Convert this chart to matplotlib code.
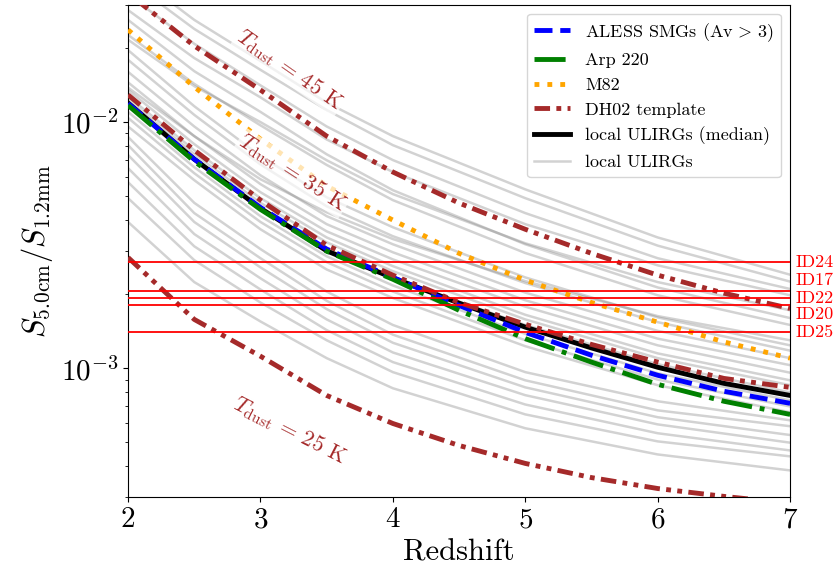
import numpy as np
import matplotlib
matplotlib.use("Agg")
import matplotlib.pyplot as plt
import matplotlib.transforms as mtransforms

plt.rcParams['font.family'] = 'serif'
plt.rcParams['font.serif'] = ['cmr10']
plt.rcParams['mathtext.fontset'] = 'cm'
plt.rcParams['axes.formatter.use_mathtext'] = True

# redshift grids
z_fine = [2.0, 2.5, 3.0, 3.5, 4.0, 4.5, 5.0, 5.5, 6.0, 6.5, 7.0]
z_gray = [2.0, 2.5, 3.0, 3.5, 4.0, 5.0, 6.0, 7.0]

# S_5cm / S_1.2mm ratios
aless = [1.19e-2, 7.07e-3, 4.50e-3, 3.05e-3, 2.34e-3, 1.80e-3, 1.40e-3, 1.13e-3, 9.37e-4, 8.07e-4, 7.21e-4]
arp220 = [1.17e-2, 6.93e-3, 4.42e-3, 2.99e-3, 2.30e-3, 1.72e-3, 1.32e-3, 1.06e-3, 8.61e-4, 7.35e-4, 6.50e-4]
m82 = [2.37e-2, 1.39e-2, 8.53e-3, 5.50e-3, 4.00e-3, 2.93e-3, 2.28e-3, 1.85e-3, 1.54e-3, 1.28e-3, 1.10e-3]
dh02_45 = [3.34e-2, 2.04e-2, 1.35e-2, 8.77e-3, 6.27e-3, 4.69e-3, 3.67e-3, 2.93e-3, 2.39e-3, 2.02e-3, 1.75e-3]
dh02_35 = [1.29e-2, 7.69e-3, 4.82e-3, 3.16e-3, 2.39e-3, 1.85e-3, 1.51e-3, 1.25e-3, 1.06e-3, 9.10e-4, 8.37e-4]
dh02_25 = [2.82e-3, 1.58e-3, 1.12e-3, 7.76e-4, 5.97e-4, 4.86e-4, 4.11e-4, 3.60e-4, 3.25e-4, 3.02e-4, 2.83e-4]
ulirg_median = [1.195e-2, 7.07e-3, 4.47e-3, 3.00e-3, 2.33e-3, 1.84e-3, 1.47e-3, 1.21e-3, 1.01e-3, 8.69e-4, 7.76e-4]

ulirgs = [
    [4.15e-2, 2.60e-2, 1.77e-2, 1.20e-2, 8.77e-3, 5.33e-3, 3.40e-3, 2.40e-3],
    [3.78e-2, 2.39e-2, 1.63e-2, 1.12e-2, 8.06e-3, 4.91e-3, 3.15e-3, 2.25e-3],
    [3.29e-2, 2.08e-2, 1.41e-2, 9.60e-3, 7.01e-3, 4.27e-3, 2.80e-3, 2.10e-3],
    [2.85e-2, 1.82e-2, 1.26e-2, 8.50e-3, 6.27e-3, 3.85e-3, 2.62e-3, 1.98e-3],
    [2.60e-2, 1.61e-2, 1.10e-2, 7.40e-3, 5.29e-3, 3.19e-3, 2.13e-3, 1.60e-3],
    [2.26e-2, 1.43e-2, 9.70e-3, 6.70e-3, 4.82e-3, 2.94e-3, 1.98e-3, 1.50e-3],
    [2.16e-2, 1.40e-2, 1.00e-2, 7.00e-3, 5.10e-3, 3.22e-3, 2.24e-3, 1.72e-3],
    [1.96e-2, 1.16e-2, 7.28e-3, 4.95e-3, 3.74e-3, 2.34e-3, 1.61e-3, 1.24e-3],
    [1.79e-2, 1.07e-2, 6.73e-3, 4.55e-3, 3.44e-3, 2.22e-3, 1.54e-3, 1.18e-3],
    [1.60e-2, 9.60e-3, 6.08e-3, 4.15e-3, 3.19e-3, 2.03e-3, 1.42e-3, 1.10e-3],
    [1.45e-2, 8.77e-3, 5.60e-3, 3.85e-3, 2.96e-3, 1.89e-3, 1.32e-3, 1.03e-3],
    [1.38e-2, 8.77e-3, 5.86e-3, 4.30e-3, 3.35e-3, 2.26e-3, 1.63e-3, 1.30e-3],
    [1.35e-2, 8.14e-3, 5.19e-3, 3.60e-3, 2.77e-3, 1.78e-3, 1.24e-3, 9.60e-4],
    [1.27e-2, 7.69e-3, 4.91e-3, 3.40e-3, 2.60e-3, 1.65e-3, 1.15e-3, 8.94e-4],
    [1.23e-2, 7.42e-3, 4.70e-3, 3.25e-3, 2.48e-3, 1.58e-3, 1.10e-3, 8.54e-4],
    [1.16e-2, 7.01e-3, 4.43e-3, 3.05e-3, 2.32e-3, 1.50e-3, 1.04e-3, 7.98e-4],
    [1.10e-2, 6.56e-3, 4.15e-3, 2.85e-3, 2.17e-3, 1.38e-3, 9.55e-4, 7.41e-4],
    [1.04e-2, 6.20e-3, 3.93e-3, 2.70e-3, 2.05e-3, 1.30e-3, 9.00e-4, 7.00e-4],
    [9.60e-3, 5.81e-3, 3.67e-3, 2.52e-3, 1.93e-3, 1.23e-3, 8.54e-4, 6.63e-4],
    [8.70e-3, 4.70e-3, 3.05e-3, 2.05e-3, 1.50e-3, 9.65e-4, 7.35e-4, 6.15e-4],
    [8.06e-3, 4.27e-3, 2.80e-3, 1.88e-3, 1.37e-3, 8.94e-4, 6.75e-4, 5.82e-4],
    [7.35e-3, 3.93e-3, 2.57e-3, 1.74e-3, 1.27e-3, 8.37e-4, 6.33e-4, 5.36e-4],
    [6.50e-3, 3.51e-3, 2.32e-3, 1.58e-3, 1.16e-3, 7.78e-4, 5.92e-4, 4.99e-4],
    [5.70e-3, 3.13e-3, 2.09e-3, 1.43e-3, 1.06e-3, 7.13e-4, 5.45e-4, 4.64e-4],
    [4.91e-3, 2.75e-3, 1.85e-3, 1.30e-3, 9.65e-4, 6.50e-4, 5.05e-4, 4.39e-4],
    [3.93e-3, 2.24e-3, 1.55e-3, 1.10e-3, 8.30e-4, 5.71e-4, 4.47e-4, 3.85e-4],
]

# observed sources
id_names = ['ID24', 'ID17', 'ID22', 'ID20', 'ID25']
id_ratios = [2.70e-3, 2.07e-3, 1.93e-3, 1.81e-3, 1.40e-3]
id_label_shift = [0, 7, 0, -7, 0]  # points, to keep labels apart

tdust_labels = ['45', '35', '25']
tdust_z = [3.22, 3.24, 3.22]
tdust_y = [1.63e-2, 6.2e-3, 5.6e-4]
tdust_rot = [-35, -33, -27]

fig = plt.figure(figsize=(8.37, 5.76), dpi=100)
ax = fig.add_axes([0.153, 0.137, 0.791, 0.855])

for k, vals in enumerate(ulirgs):
    ax.plot(z_gray, vals, color='gray', alpha=0.35, lw=1.8,
            label='local ULIRGs' if k == 0 else None, zorder=1)

ax.plot(z_fine, aless, color='blue', ls='--', lw=3.5, label=r'ALESS SMGs (Av$\,>\,$3)', zorder=4)
ax.plot(z_fine, arp220, color='green', ls='-.', lw=3.5, label='Arp 220', zorder=4)
ax.plot(z_fine, m82, color='orange', ls=':', lw=3.5, label='M82', zorder=4)
dh_dash = (3.2, 1.3, 1.0, 1.3, 1.0, 1.3)
ax.plot(z_fine, dh02_35, color='brown', dashes=dh_dash, lw=3.5, label='DH02 template', zorder=4)
ax.plot(z_fine, dh02_45, color='brown', dashes=dh_dash, lw=3.5, zorder=4)
ax.plot(z_fine, dh02_25, color='brown', dashes=dh_dash, lw=3.5, zorder=4)
ax.plot(z_fine, ulirg_median, color='black', lw=3.5, label='local ULIRGs (median)', zorder=3)

trans = mtransforms.blended_transform_factory(ax.transAxes, ax.transData)
for name, r, dy in zip(id_names, id_ratios, id_label_shift):
    ax.axhline(r, color='red', lw=1.3, zorder=5)
    ax.annotate(name, xy=(1.0, r), xycoords=trans, xytext=(4, dy),
                textcoords='offset points', color='red', fontsize=13,
                va='center', ha='left', annotation_clip=False)

for lab, zz, yy, rot in zip(tdust_labels, tdust_z, tdust_y, tdust_rot):
    ax.text(zz, yy, r'$T_{\rm dust}$ = ' + lab + ' K', color='brown', fontsize=16,
            rotation=rot, ha='center', va='center', rotation_mode='anchor', zorder=6,
            bbox=dict(facecolor='white', edgecolor='none', alpha=0.7, pad=1))

ax.set_yscale('log')
ax.set_xlim(2, 7)
ax.set_ylim(3e-4, 3e-2)
ax.set_xlabel('Redshift', fontsize=22)
ax.set_ylabel(r'$S_{5.0\rm cm}/S_{1.2\rm mm}$', fontsize=22)
ax.tick_params(axis='both', which='major', labelsize=21)

handles, labels = ax.get_legend_handles_labels()
order = [1, 2, 3, 4, 5, 0]
ax.legend([handles[i] for i in order], [labels[i] for i in order],
          loc='upper right', fontsize=13, framealpha=0.8)

fig.savefig('out.png', dpi=100)
